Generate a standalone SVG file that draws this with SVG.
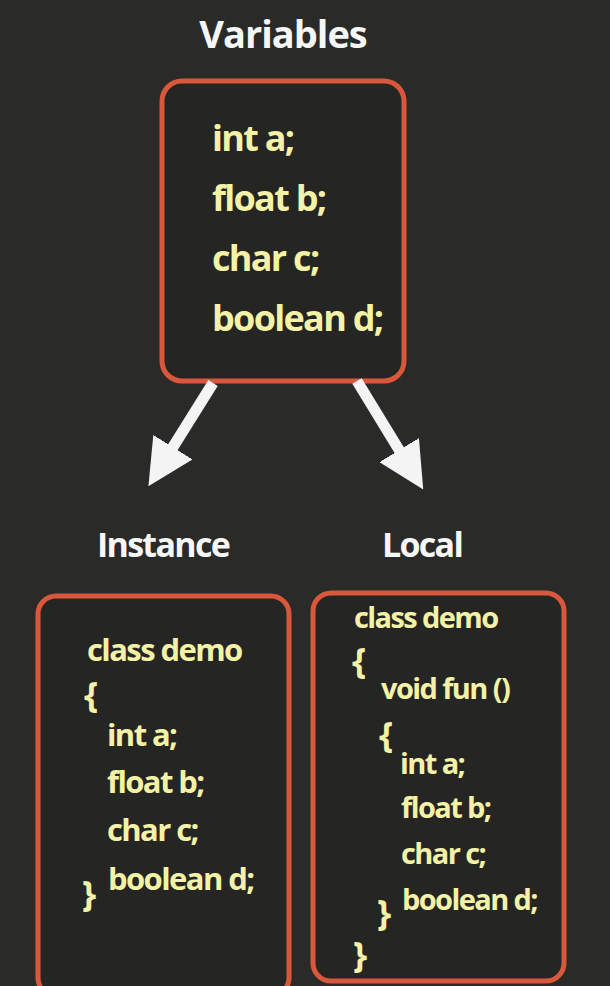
<svg xmlns="http://www.w3.org/2000/svg" width="610" height="986" viewBox="0 0 610 986">
<style>
.bg{fill:#2a2a29}
.box{fill:#252524;stroke:#d9583b;stroke-width:5}
.t{font-family:"Open Sans","Liberation Sans",sans-serif;font-weight:700;fill:#f3f2a6}
.h{font-family:"Open Sans","Liberation Sans",sans-serif;font-weight:700;fill:#f6f6f6}
.br{font-size:36px}
.arr{stroke:#f4f4f4;stroke-width:11;fill:none}
</style>
<defs>
<marker id="ah" viewBox="0 0 10 10" refX="2" refY="5" markerWidth="4.2" markerHeight="4.2" orient="auto" markerUnits="strokeWidth">
<path d="M0,0 L10,5 L0,10 Z" fill="#f4f4f4"/>
</marker>
</defs>
<rect class="bg" x="0" y="0" width="610" height="986"/>
<g id="title"><text class="h" x="283" y="48" font-size="38" text-anchor="middle" letter-spacing="-1">Variables</text></g>
<g id="variables">
<rect class="box" x="162" y="81" width="242" height="300" rx="20"/>
<text class="t" font-size="36" letter-spacing="-1.7">
<tspan x="212" y="151">int a;</tspan>
<tspan x="212" y="211">float b;</tspan>
<tspan x="212" y="271">char c;</tspan>
<tspan x="212" y="331">boolean d;</tspan>
</text>
</g>
<g id="connectors">
<line class="arr" x1="213" y1="383" x2="168" y2="455" marker-end="url(#ah)"/>
<line class="arr" x1="357" y1="381" x2="404" y2="458" marker-end="url(#ah)"/>
</g>
<g id="instance">
<text class="h" x="163" y="557" font-size="34" text-anchor="middle" letter-spacing="-1.7">Instance</text>
<rect class="box" x="38" y="596" width="251" height="400" rx="18"/>
<text class="t" font-size="31" letter-spacing="-1.6">
<tspan x="87" y="661">class demo</tspan>
<tspan class="br" x="84" y="708">{</tspan>
<tspan x="107" y="746">int a;</tspan>
<tspan x="107" y="793">float b;</tspan>
<tspan x="107" y="841">char c;</tspan>
<tspan x="108" y="890">boolean d;</tspan>
<tspan class="br" x="82" y="907">}</tspan>
</text>
</g>
<g id="local">
<text class="h" x="422" y="557" font-size="34" text-anchor="middle" letter-spacing="-1.7">Local</text>
<rect class="box" x="313" y="593" width="251" height="388" rx="18"/>
<text class="t" font-size="29" letter-spacing="-1.6">
<tspan x="354" y="628">class demo</tspan>
<tspan class="br" x="352" y="674">{</tspan>
<tspan x="381" y="699">void fun ()</tspan>
<tspan class="br" x="379" y="748">{</tspan>
<tspan x="400" y="774">int a;</tspan>
<tspan x="401" y="818">float b;</tspan>
<tspan x="401" y="864">char c;</tspan>
<tspan x="402" y="910">boolean d;</tspan>
<tspan class="br" x="377" y="926">}</tspan>
<tspan class="br" x="353" y="968">}</tspan>
</text>
</g>
</svg>
